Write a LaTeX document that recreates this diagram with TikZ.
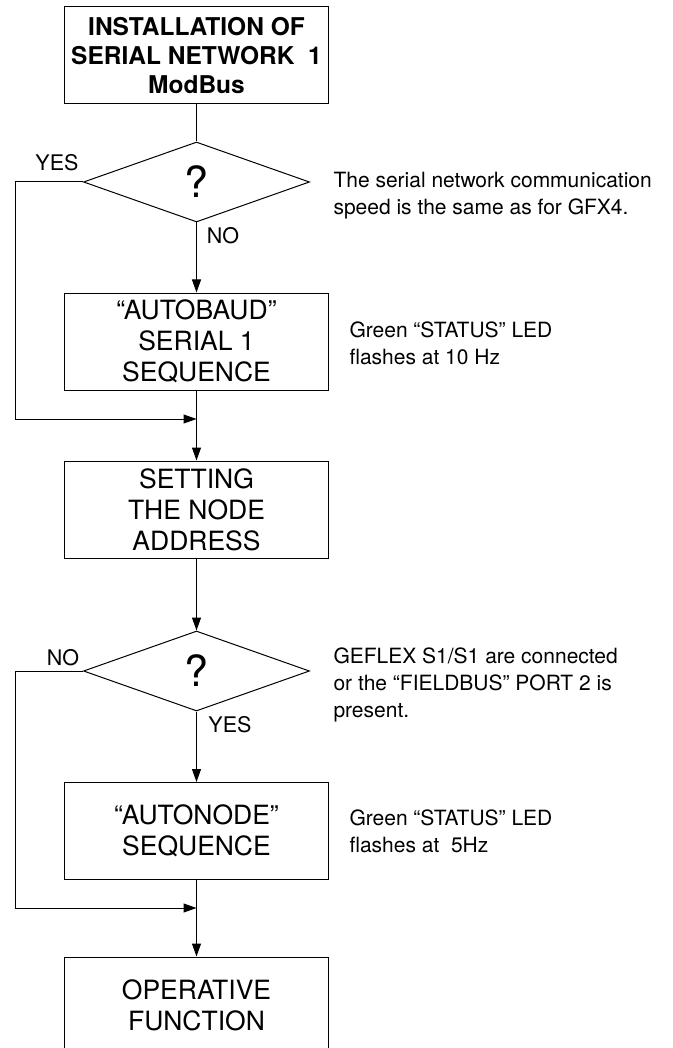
\documentclass[tikz,border=0pt]{standalone}
\usepackage{fontspec}
\setmainfont{TeX Gyre Heros}
\usetikzlibrary{shapes.geometric,arrows.meta}
\tikzset{
  boxnode/.style={draw, line width=1pt, minimum width=264pt, minimum height=97pt, inner sep=0pt, align=center, font=\fontsize{26.5}{31}\selectfont},
  titlenode/.style={boxnode, font=\bfseries\fontsize{24.5}{29}\selectfont},
  decision/.style={draw, line width=1pt, shape=diamond, minimum width=226pt, minimum height=80pt, inner sep=0pt, font=\fontsize{43}{43}\selectfont},
  sidetext/.style={anchor=west, align=left, inner sep=0pt, font=\fontsize{21}{27}\selectfont},
  yesno/.style={inner sep=0pt, font=\fontsize{21.5}{22}\selectfont},
  arr/.style={-{Triangle[length=13pt,width=9pt]}}
}
\begin{document}
\begin{tikzpicture}[x=1pt,y=-1pt,line width=1pt]
\useasboundingbox (0,0) rectangle (672,1048);
\clip (0,0) rectangle (672,1048);

\node[titlenode] (b1) at (196.5,55.5) {INSTALLATION OF\\SERIAL NETWORK\ \ 1\\ModBus};
\node[decision] (d1) at (196.5,182) {?};
\node[boxnode] (b2) at (196.5,341.5) {“AUTOBAUD”\\SERIAL 1\\SEQUENCE};
\coordinate (j1) at (196.5,419);
\coordinate (l1) at (15,182);
\node[boxnode] (b3) at (196.5,509.5) {SETTING\\THE NODE\\ADDRESS};
\node[decision] (d2) at (196.5,671) {?};
\node[boxnode] (b4) at (196.5,831) {“AUTONODE”\\SEQUENCE};
\coordinate (j2) at (196.5,908);
\coordinate (l2) at (15,671);
\node[boxnode] (b5) at (196.5,1005.5) {OPERATIVE\\FUNCTION};

\node[yesno] (yes1) at (57,163) {YES};
\node[yesno] (no1) at (223,236) {NO};
\node[yesno] (no2) at (63,658) {NO};
\node[yesno] (yes2) at (230,725) {YES};

\node[sidetext] (t1) at (333,195.3) {The serial network communication\\speed is the same as for GFX4.};
\node[sidetext] (t2) at (349,343) {Green “STATUS” LED\\flashes at 10 Hz};
\node[sidetext] (t3) at (333,684.8) {GEFLEX S1/S1 are connected\\or the “FIELDBUS” PORT 2 is\\present.};
\node[sidetext] (t4) at (349,831) {Green “STATUS” LED\\flashes at\ \ 5Hz};

\draw (b1.south) -- (d1.north);
\draw[arr] (d1.south) -- (b2.north);
\draw[arr] (d1.west) -- (l1) |- (j1);
\draw[arr] (b2.south) -- (b3.north);
\draw[arr] (b3.south) -- (d2.north);
\draw[arr] (d2.south) -- (b4.north);
\draw[arr] (d2.west) -- (l2) |- (j2);
\draw[arr] (b4.south) -- (b5.north);
\end{tikzpicture}
\end{document}
